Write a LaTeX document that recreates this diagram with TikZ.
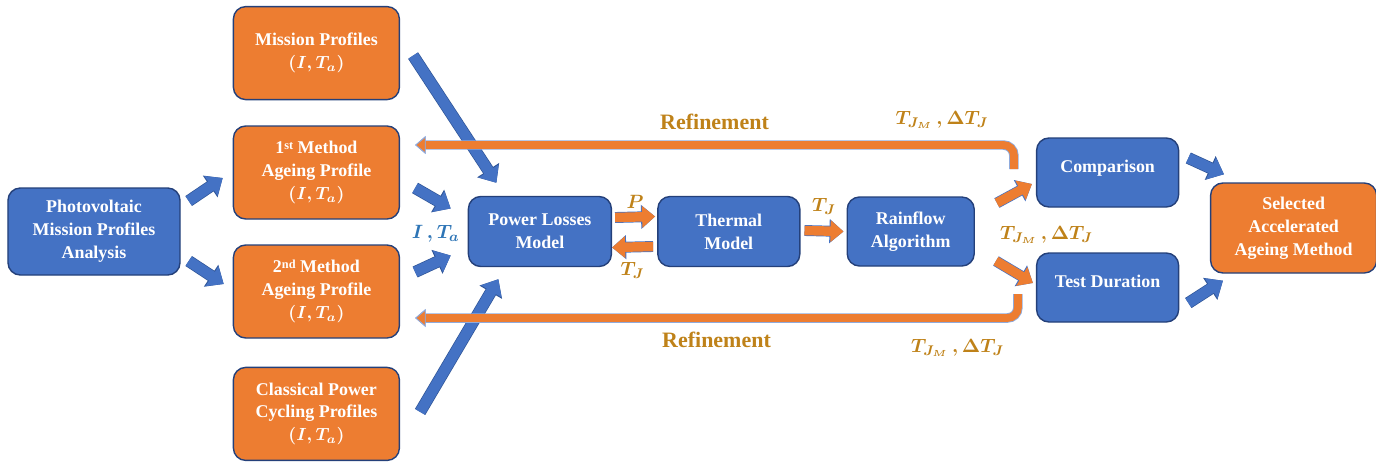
\documentclass[tikz,border=0pt]{standalone}
\usepackage{fontspec}
\setmainfont{Liberation Serif}
\usepackage{amsmath}
\usepackage{tikz}
\usetikzlibrary{arrows.meta,positioning,calc}

\definecolor{pblue}{HTML}{4472C4}
\definecolor{porange}{HTML}{ED7D31}
\definecolor{navy}{HTML}{24407A}
\definecolor{aedge}{HTML}{2F5597}
\definecolor{gold}{HTML}{BF8219}
\definecolor{lblue}{HTML}{2E75B6}
\definecolor{redge}{HTML}{8FAADC}

\newcommand{\sups}[1]{\raisebox{0.55ex}{\fontsize{7}{7}\selectfont #1}}

\begin{document}
\begin{tikzpicture}[
                font=\bfseries\fontsize{10.2}{13}\selectfont,
                blk/.style={draw=navy, line width=0.8pt, rounded corners=7pt, align=center, text=white, fill=pblue, inner sep=2pt},
                prof/.style={blk, fill=porange, minimum width=3.32cm, minimum height=1.86cm},
                model/.style={blk, minimum width=2.86cm, minimum height=1.40cm},
                barrow/.style={line width=6pt, draw=pblue, -{Triangle[length=8pt, width=13pt]},
                    preaction={draw=aedge, line width=6.8pt, -{Triangle[length=8.6pt, width=14.4pt]}}},
                oarrow/.style={line width=5.4pt, draw=porange, -{Triangle[length=7.4pt, width=12pt]},
                    preaction={draw=pblue, line width=6.2pt, -{Triangle[length=8pt, width=13.3pt]}}},
                refine/.style={line width=4.4pt, draw=porange, rounded corners=6pt,
                    -{Triangle[length=6pt, width=10pt, fill=porange, color=redge, line width=0.5pt]},
                    preaction={draw=redge, line width=5.4pt, -{Triangle[length=6pt, width=10pt, color=redge]}}},
                lbl/.style={text=gold, font=\bfseries\fontsize{11}{13}\selectfont},
                reflbl/.style={text=gold, font=\bfseries\fontsize{12.5}{14}\selectfont}
            ]
            \useasboundingbox (-1.88,-4.63) rectangle (25.64,4.63);
            % input side
            \node[blk, minimum width=3.44cm, minimum height=1.74cm] (pv) at (0,0) {Photovoltaic\\Mission Profiles\\Analysis};
            \node[prof, right=1.04cm of pv, yshift=1.18cm] (m1) {1\sups{st} Method\\Ageing Profile\\$\boldsymbol{(I,T_a)}$};
            \node[prof, right=1.04cm of pv, yshift=-1.2cm] (m2) {2\sups{nd} Method\\Ageing Profile\\$\boldsymbol{(I,T_a)}$};
            \node[prof, above=0.5cm of m1] (mp) {Mission Profiles\\$\boldsymbol{(I,T_a)}$};
            \node[prof, below=0.56cm of m2] (cl) {Classical Power\\Cycling Profiles\\$\boldsymbol{(I,T_a)}$};
            % model chain
            \node[model, right=5.74cm of pv] (pl) {Power Losses\\Model};
            \node[model, right=0.9cm of pl, minimum width=2.84cm] (th) {Thermal\\Model};
            \node[model, right=0.92cm of th, minimum width=2.54cm, minimum height=1.38cm] (rf) {Rainflow\\Algorithm};
            \node[model, right=1.22cm of rf, yshift=1.18cm, minimum width=2.84cm, minimum height=1.38cm, text depth=0.25cm] (comp) {Comparison};
            \node[model, right=1.22cm of rf, yshift=-1.12cm, minimum width=2.84cm, minimum height=1.38cm, text depth=0.25cm] (td) {Test Duration};
            \node[prof, right=4.7cm of rf, yshift=0.07cm, minimum height=1.80cm] (sel) {Selected\\Accelerated\\Ageing Method};
            % labels
            \node[lbl, text=lblue] (ita) at ([shift={(-0.64,-0.04)}]pl.west) {$\boldsymbol{I\,,T_a}$};
            \node[lbl, right=0.38cm of rf, yshift=-0.07cm] (tjm) {$\boldsymbol{T_{J_M}\,,\Delta T_J}$};
            % blue arrows
            \draw[barrow] ([shift={(0.16,0.61)}]pv.east) -- ([shift={(-0.2,-0.11)}]m1.west);
            \draw[barrow] ([shift={(0.16,-0.59)}]pv.east) -- ([shift={(-0.18,0.15)}]m2.west);
            \draw[barrow] ([shift={(0.3,-0.31)}]m1.east) -- ([shift={(-0.34,0.46)}]pl.west);
            \draw[barrow] ([shift={(0.3,0.39)}]m2.east) -- ([shift={(-0.34,-0.48)}]pl.west);
            \draw[barrow] ([shift={(0.26,-0.05)}]mp.east) -- ([shift={(-0.87,0.26)}]pl.north);
            \draw[barrow] ([shift={(0.4,0.04)}]cl.east) -- ([shift={(-0.83,-0.24)}]pl.south);
            \draw[barrow] ([shift={(0.18,0.29)}]comp.east) -- ([shift={(0.28,0.16)}]sel.north west);
            \draw[barrow] ([shift={(0.18,-0.31)}]td.east) -- ([shift={(0.26,-0.14)}]sel.south west);
            % orange arrows
            \draw[oarrow] ([shift={(0.06,0.28)}]pl.east) -- ([shift={(-0.04,0.3)}]th.west) node[lbl, midway, yshift=0.3cm] {$\boldsymbol{P}$};
            \draw[oarrow] ([shift={(-0.08,-0.3)}]th.west) -- ([shift={(0,-0.32)}]pl.east) node[lbl, midway, yshift=-0.46cm] {$\boldsymbol{T_J}$};
            \draw[oarrow] ([shift={(0.08,0.02)}]th.east) -- ([shift={(-0.06,0)}]rf.west) node[lbl, midway, yshift=0.5cm] {$\boldsymbol{T_J}$};
            \draw[oarrow] ([shift={(0.44,0.57)}]rf.east) -- ([shift={(-0.08,-0.23)}]comp.west);
            \draw[oarrow] ([shift={(0.42,-0.59)}]rf.east) -- ([shift={(-0.06,0.09)}]td.west);
            % refinement loops
            \draw[refine] ([shift={(-0.44,0.07)}]comp.west) |- ([shift={(0.3,0.55)}]m1.east)
                node[reflbl, pos=0.75, yshift=0.46cm] {Refinement}
                node[lbl, pos=0.56, yshift=0.5cm] {$\boldsymbol{T_{J_M}\,,\Delta T_J}$};
            \draw[refine] ([shift={(-0.36,-0.13)}]td.west) |- ([shift={(0.3,-0.53)}]m2.east)
                node[reflbl, pos=0.75, yshift=-0.44cm] {Refinement}
                node[lbl, pos=0.55, yshift=-0.6cm] {$\boldsymbol{T_{J_M}\,,\Delta T_J}$};
        \end{tikzpicture}
\end{document}
